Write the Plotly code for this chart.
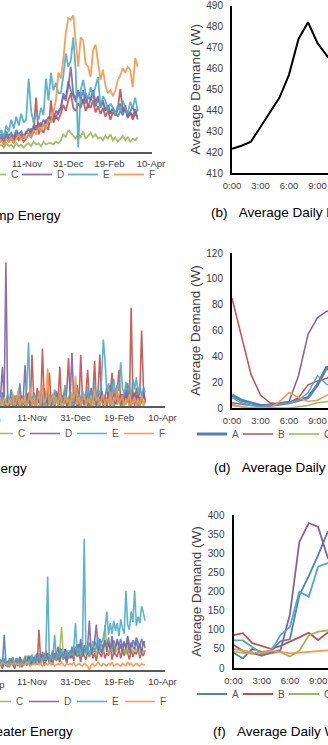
import plotly.graph_objects as go
import pandas as pd

W, H = 328, 745
FONT = "Liberation Sans, Arial, sans-serif"
NAMES = ["A", "B", "C", "D", "E", "F"]
COLORS = ["#4F81BD", "#C0504D", "#9BBB59", "#8064A2", "#4BACC6", "#F79646"]

DATE_TICKS = ["2016-09-22", "2016-11-11", "2016-12-31", "2017-02-19", "2017-04-10"]
DATE_TICKTEXT = ["22-Sep", "11-Nov", "31-Dec", "19-Feb", "10-Apr"]
HOUR_TICKS = [0, 3, 6, 9, 12, 15, 18, 21]
HOUR_TICKTEXT = ["0:00", "3:00", "6:00", "9:00", "12:00", "15:00", "18:00", "21:00"]

# ---------- (a) daily heat pump energy (every 3rd day) ----------
hp_dates = pd.date_range("2016-10-08", periods=57, freq="3D")
hp_A = [10,12,9,14,11,13,10,15,12,14,11, 13,16,12,18,15,20,17,22,19,24, 21,26,23,28,
        30,40,36,48,42,38,34, 40,36,42,33,38,35,40,31,36,
        32,35,28,31,26,30,27,24,28,25,30,23,27,24,29,22]
hp_B = [6,8,5,10,7,9,6,11,8,10,7, 9,12,10,14,37,12,16,13,18,15, 35,20,24,22,
        26,32,28,35,40,30,28, 33,30,36,28,32,30,35,27,31,
        26,30,24,28,22,27,25,30,43,28,32,24,27,22,26,24]
hp_C = [4,5,3,6,4,5,3,6,4,5,3, 5,6,4,7,5,6,4,7,5,6, 6,5,7,6,
        8,12,10,15,13,11,9, 12,10,14,9,11,13,10,12,9,
        10,8,11,9,12,8,10,7,9,11,8,10,7,9,8,10]
hp_D = [8,10,7,12,9,11,8,13,10,12,9, 14,11,16,13,18,15,20,17,22,19, 24,22,28,26,
        30,38,35,45,58,40,36, 42,38,33,40,30,36,42,34,38,
        30,34,28,32,26,30,25,29,33,27,30,24,28,31,26,29]
hp_E = [12,15,10,18,14,22,16,24,18,26,20, 22,50,28,20,27,22,30,25,50,35, 54,42,47,40,
        40,52,67,58,62,78,55, 3,42,49,40,36,44,38,45,51,
        30,38,35,28,33,30,25,32,28,35,30,26,34,30,37,28]
hp_F = [6,8,5,9,7,10,6,9,12,8,11, 9,13,10,15,12,17,14,19,16,22, 20,28,35,54,
        50,63,81,91,90,93,74, 58,78,76,60,58,51,69,73,60,
        49,56,45,40,42,38,42,49,52,57,54,58,56,44,64,58]

# ---------- (c) daily dishwasher energy (every 2nd day) ----------
dw_dates = pd.date_range("2016-10-04", periods=85, freq="2D")
dw_A = [5,1,9,3,0,6,2,11,4,0, 7,3,15,1,5,0,8,2,6,0, 9,4,1,7,0,5,12,3,0,8, 2,6,0,9,4,1,7,3,11,0,
        5,2,8,0,6,14,3,0,7,2, 4,9,0,6,3,8,1,5,0,10, 3,7,2,9,0,6,4,11,2,5, 8,1,6,3,10,0,5,9,2,7, 0,6,3,8,2]
dw_B = [2,0,5,1,0,3,0,6,2,0, 4,1,0,7,2,0,3,9,0,34, 5,0,12,3,0,38,4,0,6,22, 2,8,0,5,3,26,0,7,2,10,
        32,4,0,9,3,6,0,34,5,2, 8,24,3,0,6,30,2,9,34,4, 0,7,12,3,8,22,0,5,10,24, 3,0,8,4,15,2,65,7,0,12, 5,9,50,14,3]
dw_C = [2,0,4,1,3,0,5,2,0,3, 1,4,0,2,6,1,0,3,5,0, 2,7,1,0,4,2,6,0,3,1, 5,0,2,8,1,3,0,4,2,6,
        0,3,1,5,2,0,7,1,3,0, 4,2,6,0,3,1,5,0,2,7, 1,3,0,4,2,6,0,3,1,5, 2,0,4,1,6,0,3,2,5,0, 3,1,4,0,2]
dw_D = [3,8,26,2,95,4,0,6,2,5, 0,7,3,0,5,27,2,4,0,6, 3,0,8,2,5,0,4,9,1,3, 0,6,2,10,0,4,7,1,5,0,
        3,8,35,2,6,0,9,3,5,1, 7,0,4,12,2,6,0,8,3,10, 2,5,0,7,14,3,6,1,9,4, 0,8,3,11,2,6,0,5,9,2, 7,0,4,10,3]
dw_E = [4,2,6,0,3,8,1,5,0,7, 2,9,4,0,6,3,12,42,5,2, 8,0,4,10,2,6,0,5,9,3, 7,1,11,4,0,8,3,6,14,2,
        5,9,0,7,12,3,8,1,10,4, 6,13,2,9,5,16,3,11,7,18, 44,30,9,15,6,12,18,8,14,10, 29,12,7,16,9,13,6,18,11,19, 8,14,6,12,9]
dw_F = [1,4,0,6,2,0,5,1,8,0, 3,10,0,5,2,7,0,4,12,1, 6,0,3,9,0,14,2,5,25,0, 4,8,1,6,0,10,3,0,7,2,
        5,0,9,3,20,1,6,0,4,8, 0,5,2,7,0,11,3,6,1,4, 8,0,5,2,9,0,6,3,12,1, 4,7,0,5,2,8,0,3,6,1, 5,0,7,2,4]

# ---------- (e) daily water heater energy (every 2nd day) ----------
wh_dates = pd.date_range("2016-10-04", periods=85, freq="2D")
wh_A = [5,8,4,27,6,3,9,5,7,4, 9,6,3,8,5,10,4,7,11,6, 8,5,12,9,6,14,10,7,13,9, 11,15,8,13,10,17,12,9,16,11,
        14,10,18,13,16,12,20,15,11,19, 16,13,21,17,14,22,18,15,24,19, 16,21,18,25,14,20,23,17,22,19, 24,18,21,16,26,20,17,23,19,25, 21,18,24,20,22]
wh_B = [2,5,1,7,3,6,2,8,4,1, 6,3,9,2,5,8,4,10,3,7, 5,9,4,31,6,11,3,8,12,5, 9,4,13,7,10,6,14,8,11,5,
        12,9,15,7,18,10,13,6,16,11, 8,14,10,17,9,13,7,15,12,10, 16,9,13,11,19,8,14,12,10,17, 9,15,11,18,13,8,16,10,14,12, 17,9,13,11,15]
wh_C = [3,6,4,8,5,3,7,4,9,5, 7,4,10,6,8,5,11,7,6,9, 8,12,6,10,9,7,13,8,11,10, 9,14,8,12,10,16,33,11,13,9,
        15,11,14,10,17,12,13,16,11,14, 12,18,10,15,13,17,11,19,14,16, 13,35,15,12,18,14,20,13,17,15, 19,14,16,12,20,15,18,13,17,14, 18,12,16,14,15]
wh_D = [3,6,2,8,4,7,3,9,5,2, 8,4,10,6,3,9,5,11,7,4, 10,6,13,5,9,12,7,15,8,11, 6,14,9,12,18,8,13,10,16,7,
        12,15,9,17,11,20,13,24,10,16, 14,19,38,12,17,22,35,15,20,13, 18,23,14,21,16,26,12,19,24,15, 20,14,22,17,25,13,21,18,16,23, 15,20,13,22,17]
wh_E = [4,7,3,9,5,2,8,4,10,3, 6,9,2,7,5,11,3,8,6,12, 4,9,7,13,5,10,8,14,72,6, 11,9,27,7,13,10,16,8,12,15,
        9,14,11,17,36,12,18,10,15,101, 13,19,11,16,22,14,18,25,15,21, 25,32,45,27,36,28,38,30,36,26, 39,32,28,61,35,31,45,37,61,34, 41,36,49,44,38]
wh_F = [5,4,6,5,4,5,3,5,4,6, 4,5,3,5,4,4,6,5,3,4, 5,4,6,4,5,3,4,5,4,6, 4,5,3,4,5,4,6,4,3,5,
        4,5,4,6,3,4,5,4,3,5, 4,3,0,4,5,3,4,6,4,3, 5,4,3,5,4,6,3,4,5,4, 3,5,4,3,6,4,5,3,4,5, 4,3,5,4,4]

# ---------- hourly averages ----------
hours = list(range(12))
hp_avg = [421.5, 423, 425, 432, 439, 446, 457, 474, 482, 472, 466, 461]

dwd_A = [10, 6, 4, 2, 2, 3, 4, 6, 8, 18, 32, 20]
dwd_B = [85, 55, 26, 10, 4, 3, 4, 8, 18, 21, 23, 30]
dwd_C = [2, 1, 0, 0, 0, 0, 0, 1, 2, 4, 5, 6]
dwd_D = [4, 3, 2, 2, 3, 4, 5, 25, 57, 70, 75, 72]
dwd_E = [8, 4, 2, 1, 2, 3, 4, 6, 12, 25, 18, 20]
dwd_F = [3, 1, 0, 0, 0, 5, 12, 8, 5, 6, 10, 12]

whd_A = [40, 25, 50, 42, 45, 70, 75, 190, 240, 295, 355, 330]
whd_B = [86, 91, 65, 57, 50, 58, 68, 80, 92, 73, 92, 95]
whd_C = [42, 40, 38, 35, 38, 42, 30, 45, 85, 95, 98, 100]
whd_D = [60, 45, 40, 32, 40, 47, 140, 329, 379, 369, 290, 250]
whd_E = [72, 72, 55, 38, 45, 86, 107, 200, 186, 265, 274, 280]
whd_F = [50, 45, 40, 40, 45, 42, 38, 40, 42, 45, 47, 48]


def fx(p):
    return p / W


def fy(p):
    return 1 - p / H


fig = go.Figure()


def add_group(xs, data, xa, ya, legend, widths, opacity=1.0):
    for name, color, vals, w in zip(NAMES, COLORS, data, widths):
        fig.add_trace(go.Scatter(
            x=xs, y=vals, name=name, mode="lines",
            line=dict(color=color, width=w), opacity=opacity,
            xaxis=xa, yaxis=ya, legend=legend, showlegend=True))


add_group(hp_dates, [hp_A, hp_B, hp_C, hp_D, hp_E, hp_F], "x", "y", "legend", [1.8] * 6, 0.9)
fig.add_trace(go.Scatter(x=hours, y=hp_avg, mode="lines", line=dict(color="black", width=2),
                         xaxis="x2", yaxis="y2", showlegend=False, name="Heat pump"))
add_group(dw_dates, [dw_A, dw_B, dw_C, dw_D, dw_E, dw_F], "x3", "y3", "legend2", [1.6] * 6, 0.9)
add_group(hours, [dwd_A, dwd_B, dwd_C, dwd_D, dwd_E, dwd_F], "x4", "y4", "legend4",
          [3, 1.5, 1.5, 1.5, 1.5, 1.5])
add_group(wh_dates, [wh_A, wh_B, wh_C, wh_D, wh_E, wh_F], "x5", "y5", "legend3", [1.6] * 6, 0.9)
add_group(hours, [whd_A, whd_B, whd_C, whd_D, whd_E, whd_F], "x6", "y6", "legend5", [1.8] * 6)

base_kw = dict(ticks="outside", tickcolor="rgba(0,0,0,0)", showgrid=False,
               zeroline=False, automargin=False, fixedrange=True, ticklabeloverflow="allow")


def left_x(domain, rng, anchor):
    return dict(type="date", domain=domain, range=rng, anchor=anchor, showline=True,
                linecolor="#595959", linewidth=1.5, tickvals=DATE_TICKS, ticktext=DATE_TICKTEXT,
                ticklen=2, tickfont=dict(size=9.5, color="#404040", family=FONT), **base_kw)


def left_y(domain, rng, anchor):
    return dict(domain=domain, range=rng, anchor=anchor, visible=False, fixedrange=True)


def right_x(domain, rng, anchor):
    return dict(domain=domain, range=rng, anchor=anchor, showline=True, linecolor="black",
                linewidth=2, tickvals=HOUR_TICKS, ticktext=HOUR_TICKTEXT, ticklen=3,
                tickfont=dict(size=9.5, color="#404040", family=FONT), **base_kw)


def right_y(domain, rng, dtick, anchor):
    return dict(domain=domain, range=rng, dtick=dtick, anchor=anchor, showline=True,
                linecolor="black", linewidth=2, tick0=0, ticklen=5,
                tickfont=dict(size=10, color="#404040", family=FONT),
                title=dict(text="Average Demand (W)", standoff=3,
                           font=dict(size=13.5, color="#404040", family=FONT)), **base_kw)


def legend_cfg(x, y, xanchor, ew):
    return dict(orientation="h", x=x, y=y, xanchor=xanchor, yanchor="middle",
                entrywidth=ew, bgcolor="rgba(0,0,0,0)", borderwidth=0,
                font=dict(size=10, color="#595959", family=FONT))


annotations = []


def title(text, xp, yp, anchor):
    annotations.append(dict(text=text, x=fx(xp), y=fy(yp), xref="paper", yref="paper",
                            xanchor=anchor, yanchor="middle", showarrow=False,
                            font=dict(size=13.5, color="black", family=FONT)))


NB = "\u00a0\u00a0\u00a0"
title("(a)" + NB + "Daily Heat Pump Energy", 63, 215, "right")
title("(c)" + NB + "Daily Dishwasher Energy", 29, 468, "right")
title("(e)" + NB + "Daily Water Heater Energy", 75, 731, "right")
title("(b)" + NB + "Average Daily Heat Pump Demand", 209, 213, "left")
title("(d)" + NB + "Average Daily Dishwasher Demand", 212, 467, "left")
title("(f)" + NB + "Average Daily Water Heater Demand", 211, 731, "left")

# first date label of the left panels, falling mostly outside the picture
for xp, yp in [(2, 165), (3, 419), (7, 684)]:
    annotations.append(dict(text="22-Sep", x=fx(xp), y=fy(yp), xref="paper", yref="paper",
                            xanchor="right", yanchor="middle", showarrow=False,
                            font=dict(size=9.5, color="#404040", family=FONT)))

fig.update_layout(
    width=W, height=H,
    margin=dict(l=0, r=0, t=0, b=0, autoexpand=False),
    paper_bgcolor="white", plot_bgcolor="white",
    font=dict(family=FONT),
    hovermode=False,
    xaxis=left_x([0, fx(152)], ["2016-10-09 08:00", "2017-04-11 08:00"], "y"),
    yaxis=left_y([fy(152), fy(5)], [0, 100], "x"),
    xaxis3=left_x([0, fx(165)], ["2016-10-05 05:00", "2017-04-12 22:00"], "y3"),
    yaxis3=left_y([fy(406), fy(255)], [0, 100], "x3"),
    xaxis5=left_x([0, fx(165)], ["2016-10-05 05:00", "2017-04-12 22:00"], "y5"),
    yaxis5=left_y([fy(670), fy(527)], [0, 110], "x5"),
    xaxis2=right_x([fx(232), 1], [0, 10.1], "y2"),
    yaxis2=right_y([fy(173), fy(5.5)], [410, 490], 10, "x2"),
    xaxis4=right_x([fx(232), 1], [0, 10.1], "y4"),
    yaxis4=right_y([fy(408), fy(253)], [0, 120], 20, "x4"),
    xaxis6=right_x([fx(233.5), 1], [0, 10.05], "y6"),
    yaxis6=right_y([fy(668), fy(515)], [0, 400], 50, "x6"),
    legend=legend_cfg(fx(155), fy(174.5), "right", 1),
    legend2=legend_cfg(fx(166), fy(433.5), "right", 2),
    legend3=legend_cfg(fx(168), fy(701.5), "right", 3),
    legend4=legend_cfg(fx(192), fy(434), "left", 1),
    legend5=legend_cfg(fx(192), fy(694), "left", 1),
    annotations=annotations,
)

fig.write_html("out.html", config={"displayModeBar": False, "staticPlot": True})
